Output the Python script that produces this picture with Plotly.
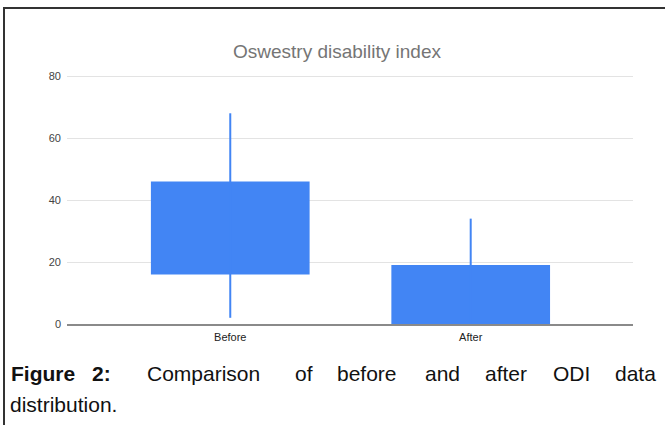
import plotly.graph_objects as go

# ---- data ----
categories = ["Before", "After"]
whisker_low = [2, 0]
box_low = [16, 0]
box_high = [46, 19]
whisker_high = [68, 34]
y_ticks = [0, 20, 40, 60, 80]

title_text = "Oswestry disability index"
caption_bold_words = ["Figure", "2:"]
caption_line1_words = ["Comparison", "of", "before", "and", "after", "ODI", "data"]
caption_line2 = "distribution."

BLUE = "#4285F4"
FONT = "Liberation Sans, Arial, sans-serif"

W, H = 665, 425
L, R, T, B = 67, 32, 73, 101
PW, PH = W - L - R, H - T - B


def px(x):
    return (x - L) / PW


def py(y):
    return (H - B - y) / PH


fig = go.Figure()

# whiskers
for c, lo, hi in zip(categories, whisker_low, whisker_high):
    fig.add_trace(go.Scatter(x=[c, c], y=[lo, hi], mode="lines",
                             line=dict(color=BLUE, width=2),
                             showlegend=False, hoverinfo="skip"))

# boxes
fig.add_trace(go.Bar(x=categories,
                     y=[h - l for l, h in zip(box_low, box_high)],
                     base=box_low, width=0.66,
                     marker=dict(color=BLUE, line=dict(width=0)),
                     showlegend=False))

fig.update_layout(
    width=W, height=H,
    margin=dict(l=L, r=R, t=T, b=B),
    paper_bgcolor="white", plot_bgcolor="white",
    font=dict(family=FONT),
    title=dict(text=title_text, xref="paper", x=px(337), xanchor="center",
               yref="container", y=1 - 51 / H, yanchor="middle",
               font=dict(size=19, color="#757575", family=FONT)),
    xaxis=dict(type="category", range=[-0.679, 1.675], showgrid=False,
               showline=True, linecolor="#8a8a8a", linewidth=2,
               tickfont=dict(size=11, color="#222222"), ticks="",
               ticklabelstandoff=2),
    yaxis=dict(range=[0, 81], tickvals=y_ticks, showgrid=True,
               gridcolor="#e3e3e3", gridwidth=1, zeroline=False,
               showline=False, tickfont=dict(size=11, color="#444444"),
               ticks="", ticklabelstandoff=5),
)

# frame around the figure (left and top edges visible)
fig.add_shape(type="rect", xref="paper", yref="paper",
              x0=px(4), x1=px(700), y0=py(460), y1=py(8),
              line=dict(color="#333333", width=2), layer="above")

# caption (justified first line)
cap_y1 = py(373)
cap_y2 = py(404)
for wd, wx in zip(caption_bold_words, [9, 90]):
    fig.add_annotation(text="<b>" + wd + "</b>", xref="paper", yref="paper",
                       x=px(wx), y=cap_y1, xanchor="left", yanchor="middle",
                       showarrow=False, font=dict(size=21, color="#111111", family=FONT))
word_x = [145, 293, 335, 423, 483, 551, 613]
for wd, wx in zip(caption_line1_words, word_x):
    fig.add_annotation(text=wd, xref="paper", yref="paper",
                       x=px(wx), y=cap_y1, xanchor="left", yanchor="middle",
                       showarrow=False, font=dict(size=21, color="#111111", family=FONT))
fig.add_annotation(text=caption_line2, xref="paper", yref="paper",
                   x=px(8), y=cap_y2, xanchor="left", yanchor="middle",
                   showarrow=False, font=dict(size=21, color="#111111", family=FONT))

fig.write_html("out.html",
               config={"displayModeBar": False},
               post_script="document.body.style.margin='0';document.body.style.overflow='hidden';")
